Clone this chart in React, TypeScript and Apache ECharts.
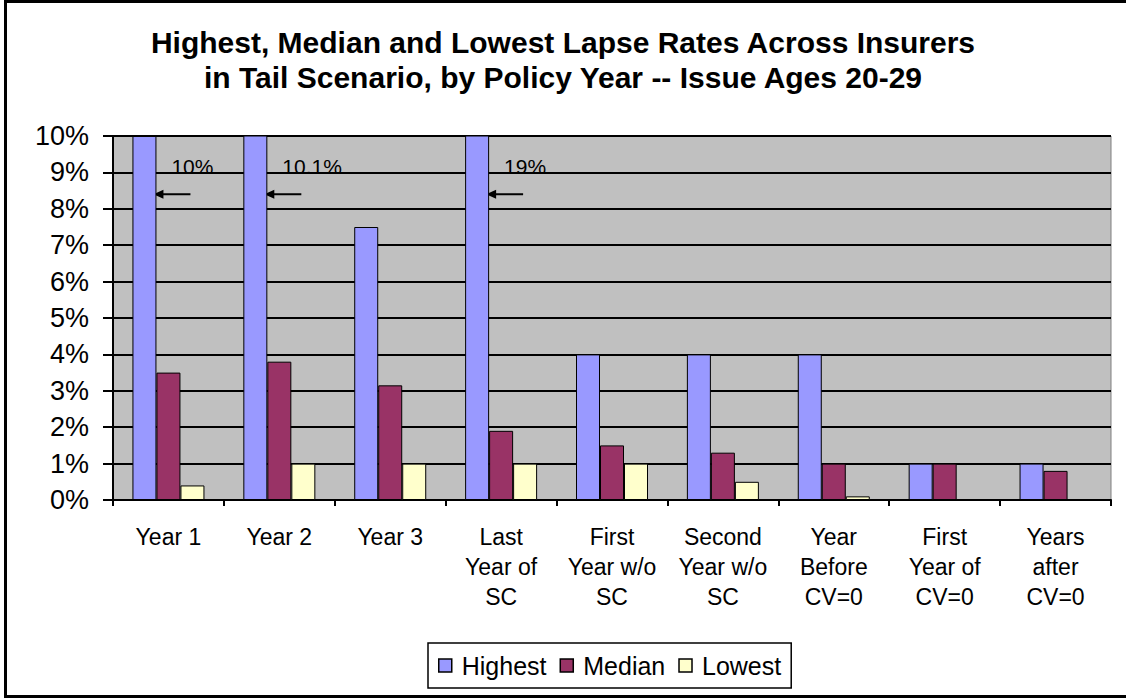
import React, { useEffect, useRef } from "react";
import * as echarts from "echarts";

const categories = [
  "Year 1",
  "Year 2",
  "Year 3",
  "Last\nYear of\nSC",
  "First\nYear w/o\nSC",
  "Second\nYear w/o\nSC",
  "Year\nBefore\nCV=0",
  "First\nYear of\nCV=0",
  "Years\nafter\nCV=0",
];
const highest = [10, 10.1, 7.5, 19, 4, 4, 4, 1, 1];
const median = [3.5, 3.8, 3.15, 1.9, 1.5, 1.3, 1.0, 1.0, 0.8];
const lowest = [0.4, 1.0, 1.0, 1.0, 1.0, 0.5, 0.1, 0, 0];
const yTicks = [0, 1, 2, 3, 4, 5, 6, 7, 8, 9, 10];
const calloutIdx = [0, 1, 3];
const titleLines = [
  "Highest, Median and Lowest Lapse Rates Across Insurers",
  "in Tail Scenario, by Policy Year -- Issue Ages 20-29",
];

const FONT = "'Liberation Sans', Arial, sans-serif";

export default function App() {
  const ref = useRef<HTMLDivElement>(null);
  useEffect(() => {
    document.body.style.margin = "0";
    const chart = echarts.init(ref.current!, null, { renderer: "svg" });
    const yMax = yTicks[yTicks.length - 1];
    const barStyle = (color: string) => ({
      color,
      borderColor: "#000",
      borderWidth: 1,
    });
    chart.setOption({
      animation: false,
      backgroundColor: "#fff",
      textStyle: { fontFamily: FONT },
      title: {
        text: titleLines.join("\n"),
        left: "center",
        top: 20,
        textStyle: {
          fontFamily: FONT,
          fontWeight: "bold",
          fontSize: 30,
          lineHeight: 35,
          color: "#000",
        },
      },
      legend: {
        left: 428,
        top: 643,
        orient: "horizontal",
        data: ["Highest", "Median", "Lowest"],
        icon: "rect",
        itemWidth: 13,
        itemHeight: 13,
        itemGap: 13,
        padding: [10, 10, 10, 10],
        borderColor: "#000",
        borderWidth: 1.5,
        itemStyle: { borderColor: "#000", borderWidth: 1.5 },
        textStyle: {
          fontFamily: FONT,
          fontSize: 25,
          color: "#000",
          lineHeight: 25,
          padding: [0, 0, 0, 5],
        },
      },
      grid: {
        left: 113,
        right: 15,
        top: 136,
        bottom: 198,
        show: true,
        backgroundColor: "#C0C0C0",
        borderColor: "#808080",
        borderWidth: 1,
      },
      xAxis: {
        type: "category",
        data: categories,
        axisLine: { show: true, lineStyle: { color: "#000", width: 2 } },
        axisTick: { show: true, length: 6, lineStyle: { color: "#000", width: 2 } },
        axisLabel: {
          interval: 0,
          fontFamily: FONT,
          fontSize: 23,
          lineHeight: 30,
          margin: 22,
          color: "#000",
        },
        splitLine: { show: false },
      },
      yAxis: {
        type: "value",
        min: 0,
        max: yMax,
        interval: 1,
        axisLine: { show: true, lineStyle: { color: "#000", width: 2 } },
        axisTick: { show: true, length: 10, lineStyle: { color: "#000", width: 2 } },
        axisLabel: {
          formatter: "{value}%",
          fontFamily: FONT,
          fontSize: 27,
          margin: 24,
          color: "#000",
        },
        splitLine: { show: true, lineStyle: { color: "#000", width: 2 } },
      },
      series: [
        { name: "Highest", type: "bar", data: highest, barWidth: 24, barGap: "0%", itemStyle: barStyle("#9999FF"), clip: true },
        { name: "Median", type: "bar", data: median, barWidth: 24, barGap: "0%", itemStyle: barStyle("#993366"), clip: true },
        { name: "Lowest", type: "bar", data: lowest, barWidth: 24, barGap: "0%", itemStyle: barStyle("#FFFFCC"), clip: true },
      ],
    });

    // callouts for bars at / beyond the axis maximum
    const elements: any[] = [
      {
        type: "rect",
        shape: { x: 5.5, y: 1.5, width: 1200, height: 695 },
        style: { fill: "none", stroke: "#000", lineWidth: 3 },
        silent: true,
      },
    ];
    calloutIdx.forEach((i) => {
      const [cx, ty] = chart.convertToPixel({ gridIndex: 0 }, [i, 9.15]) as number[];
      const [, ay] = chart.convertToPixel({ gridIndex: 0 }, [i, 8.4]) as number[];
      const v = highest[i];
      elements.push({
        type: "text",
        x: cx + 3,
        y: ty,
        style: {
          text: `${v}%`,
          fontFamily: FONT,
          fontSize: 21,
          fill: "#000",
          align: "left",
          verticalAlign: "middle",
        },
        silent: true,
      });
      const x1 = cx + 22;
      const x2 = cx - 15;
      elements.push({
        type: "line",
        shape: { x1, y1: ay, x2: x2 + 6, y2: ay },
        style: { stroke: "#000", lineWidth: 2 },
        silent: true,
      });
      elements.push({
        type: "polygon",
        shape: { points: [[x2, ay], [x2 + 10, ay - 4.5], [x2 + 10, ay + 4.5]] },
        style: { fill: "#000" },
        silent: true,
      });
    });
    chart.setOption({ graphic: { elements } });
    return () => chart.dispose();
  }, []);
  return <div ref={ref} style={{ width: 1126, height: 698 }} />;
}
